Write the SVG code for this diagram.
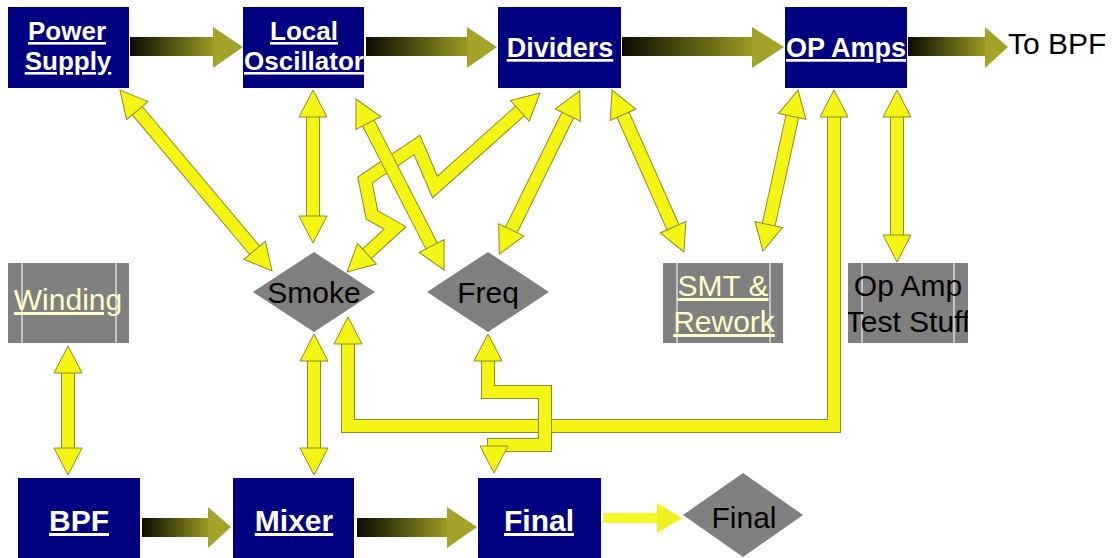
<svg xmlns="http://www.w3.org/2000/svg" width="1120" height="558" viewBox="0 0 1120 558">
<style>
.nb{fill:#000080}
.gb{fill:#808080}
.il{stroke:#dcdcdc;stroke-width:1.5}
.dm{fill:#808080}
.t{font-family:"Liberation Sans",Arial,sans-serif}
.bl{font-weight:bold;fill:#ffffff;text-decoration:underline;text-anchor:middle}
.gl{fill:#ffffcc;font-size:30px;text-decoration:underline;text-anchor:middle}
.dk{fill:#000000;font-size:30px;text-anchor:middle}
.yo{fill:none;stroke:#8c8c28;stroke-width:14;stroke-linejoin:miter}
.yb{fill:none;stroke:#f5f514;stroke-width:12;stroke-linejoin:miter;marker-start:url(#yh);marker-end:url(#yh)}
.gh{fill:#a3a32a}
</style>
<defs>
<linearGradient id="gg" x1="0" y1="0" x2="1" y2="0">
<stop offset="0" stop-color="#0a0a00"/>
<stop offset="1" stop-color="#9c9c22"/>
</linearGradient>
<marker id="yh" markerUnits="userSpaceOnUse" orient="auto-start-reverse" markerWidth="40" markerHeight="40" refX="0" refY="0" overflow="visible">
<path d="M-1,-14 L26,0 L-1,14 Z" fill="#f5f514" stroke="#8c8c28" stroke-width="1"/>
</marker>
<clipPath id="cop"><rect x="848" y="263" width="120" height="80"/></clipPath>
</defs>

<g id="connectors">
<g id="flow">
<rect x="130" y="37" width="84" height="19" fill="url(#gg)"/><polygon class="gh" points="213,27 243,47 213,68"/>
<rect x="366" y="37" width="102" height="19" fill="url(#gg)"/><polygon class="gh" points="467,27 497,47 467,68"/>
<rect x="622" y="37" width="131" height="19" fill="url(#gg)"/><polygon class="gh" points="752,27 784,47 752,68"/>
<rect x="908" y="37" width="78" height="19" fill="url(#gg)"/><polygon class="gh" points="985,27 1008,47 985,68"/>
<rect x="142" y="518" width="67" height="19" fill="url(#gg)"/><polygon class="gh" points="208,507 231,527 208,548"/>
<rect x="357" y="518" width="91" height="19" fill="url(#gg)"/><polygon class="gh" points="447,507 477,527 447,548"/>
<rect x="603" y="513" width="55" height="10" fill="#f5f52a"/><polygon fill="#f0f020" points="657,503 682,518 657,533"/>
</g>
<g id="links">
<path class="yo" d="M136.7,109.9 L255.3,251.1"/><path class="yb" d="M136.7,109.9 L255.3,251.1"/>
<path class="yo" d="M313,116 L313,217"/><path class="yb" d="M313,116 L313,217"/>
<path class="yo" d="M520.6,110.3 L435,187 L417,145 L365,180 L372,215 L395,228 L366.2,254.4"/><path class="yb" d="M520.6,110.3 L435,187 L417,145 L365,180 L372,215 L395,228 L366.2,254.4"/>
<path class="yo" d="M367.9,122.1 L432.1,246.9"/><path class="yb" d="M367.9,122.1 L432.1,246.9"/>
<path class="yo" d="M568.2,114.2 L510.8,230.8"/><path class="yb" d="M568.2,114.2 L510.8,230.8"/>
<path class="yo" d="M622.6,113.8 L673.4,228.2"/><path class="yb" d="M622.6,113.8 L673.4,228.2"/>
<path class="yo" d="M792.5,115.4 L768.5,225.6"/><path class="yb" d="M792.5,115.4 L768.5,225.6"/>
<path class="yo" d="M897,116 L897,236"/><path class="yb" d="M897,116 L897,236"/>
<path class="yo" d="M68,372 L68,449"/><path class="yb" d="M68,372 L68,449"/>
<path class="yo" d="M314,360 L314,449"/><path class="yb" d="M314,360 L314,449"/>
<path class="yo" d="M834,116 L834,426 L348,426 L348,343"/><path class="yb" d="M834,116 L834,426 L348,426 L348,343"/>
<path class="yo" d="M488,360 L488,392 L545,392 L545,445 L494,445 L494,447"/><path class="yb" d="M488,360 L488,392 L545,392 L545,445 L494,445 L494,447"/>
</g>
</g>

<g id="power-supply">
<rect class="nb" x="8" y="7" width="121" height="81"/>
<text class="t bl" x="67" y="40" font-size="26">Power</text>
<text class="t bl" x="68" y="70" font-size="26">Supply</text>
</g>
<g id="local-oscillator">
<rect class="nb" x="243" y="7" width="121" height="81"/>
<text class="t bl" x="304" y="40" font-size="26">Local</text>
<text class="t bl" x="304" y="70" font-size="26">Oscillator</text>
</g>
<g id="dividers">
<rect class="nb" x="498" y="7" width="123" height="81"/>
<text class="t bl" x="560" y="57" font-size="27">Dividers</text>
</g>
<g id="op-amps">
<rect class="nb" x="785" y="7" width="122" height="81"/>
<text class="t bl" x="846" y="57" font-size="27">OP Amps</text>
</g>
<g id="to-bpf">
<text class="t" x="1008" y="54" font-size="30" fill="#000000">To BPF</text>
</g>

<g id="winding">
<rect class="gb" x="8" y="263" width="121" height="80"/>
<line class="il" x1="22" y1="263" x2="22" y2="343"/><line class="il" x1="116" y1="263" x2="116" y2="343"/>
<text class="t gl" x="68" y="310">Winding</text>
</g>
<g id="smoke">
<polygon class="dm" points="314,252 375,292 314,332 253,292"/>
<text class="t dk" x="314" y="303">Smoke</text>
</g>
<g id="freq">
<polygon class="dm" points="488,252 549,292 488,332 427,292"/>
<text class="t dk" x="488" y="303">Freq</text>
</g>
<g id="smt-rework">
<rect class="gb" x="663" y="263" width="120" height="80"/>
<line class="il" x1="677" y1="263" x2="677" y2="343"/><line class="il" x1="770" y1="263" x2="770" y2="343"/>
<text class="t gl" x="723" y="296">SMT &amp;</text>
<text class="t gl" x="724" y="332">Rework</text>
</g>
<g id="op-amp-test">
<rect class="gb" x="848" y="263" width="120" height="80"/>
<line class="il" x1="862" y1="263" x2="862" y2="343"/><line class="il" x1="954" y1="263" x2="954" y2="343"/>
<g clip-path="url(#cop)">
<text class="t dk" x="908" y="296">Op Amp</text>
<text class="t dk" x="908" y="332">Test Stuff</text>
</g>
</g>

<g id="bpf">
<rect class="nb" x="18" y="478" width="122" height="80"/>
<text class="t bl" x="79" y="531" font-size="30">BPF</text>
</g>
<g id="mixer">
<rect class="nb" x="233" y="478" width="121" height="80"/>
<text class="t bl" x="294" y="531" font-size="30">Mixer</text>
</g>
<g id="final-box">
<rect class="nb" x="478" y="478" width="123" height="80"/>
<text class="t bl" x="539" y="531" font-size="30">Final</text>
</g>
<g id="final-diamond">
<polygon class="dm" points="743,473 803,515 743,557 683,515"/>
<text class="t dk" x="744" y="528">Final</text>
</g>
</svg>
